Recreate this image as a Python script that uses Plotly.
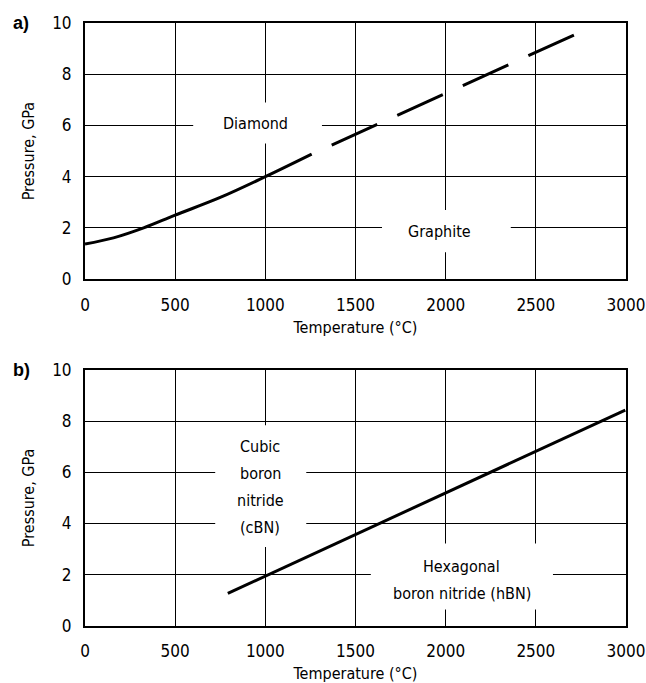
import plotly.graph_objects as go

# ---- data ----
# panel a: diamond / graphite equilibrium line (solid part, then dashed extrapolation)
a_solid_T = [0, 158, 325, 500, 750, 1000, 1257]
a_solid_P = [1.37, 1.61, 2.0, 2.5, 3.19, 4.0, 4.88]
a_dash_T = [1257, 2724]
a_dash_P = [4.88, 9.57]

# panel b: cBN / hBN equilibrium line
b_T = [792, 2996]
b_P = [1.27, 8.43]

x_ticks = [0, 500, 1000, 1500, 2000, 2500, 3000]
y_ticks = [0, 2, 4, 6, 8, 10]

# region labels (one entry per text line)
a_label_lines = [("Diamond", 943, 6.08), ("Graphite", 1967, 1.88)]
b_label_lines = [("Cubic", 971, 7.0), ("boron", 971, 5.95), ("nitride", 971, 4.9),
                 ("(cBN)", 971, 3.85), ("Hexagonal", 2088, 2.32),
                 ("boron nitride (hBN)", 2088, 1.28)]

FONT = "DejaVu Sans Condensed, Liberation Sans, Arial, sans-serif"
FS = 16
TICK_FS = 17

fig = go.Figure()
fig.add_trace(go.Scatter(x=a_solid_T, y=a_solid_P, mode="lines",
                         line=dict(color="black", width=3, shape="spline"),
                         xaxis="x", yaxis="y", showlegend=False, hoverinfo="skip"))
fig.add_trace(go.Scatter(x=a_dash_T, y=a_dash_P, mode="lines",
                         line=dict(color="black", width=3, dash="0px,22px,50px,0px"),
                         xaxis="x", yaxis="y", showlegend=False, hoverinfo="skip"))
fig.add_trace(go.Scatter(x=b_T, y=b_P, mode="lines",
                         line=dict(color="black", width=3), xaxis="x2", yaxis="y2",
                         showlegend=False, hoverinfo="skip"))

axis_common = dict(showline=True, mirror=True, linecolor="black", linewidth=2,
                   showgrid=True, gridcolor="black", gridwidth=1.2, zeroline=False,
                   ticks="", tickfont=dict(family=FONT, size=TICK_FS, color="black"),
                   title_font=dict(family=FONT, size=FS, color="black"),
                   ticklabeloverflow="allow", automargin=False)

fig.update_layout(
    width=646, height=683,
    margin=dict(l=85, r=20, t=23, b=57),
    paper_bgcolor="white", plot_bgcolor="white",
    font=dict(family=FONT, size=FS, color="black"),
    xaxis=dict(axis_common, domain=[0, 1], anchor="y", range=[0, 3000],
               tickvals=x_ticks, title=dict(text="Temperature (°C)", standoff=8),
               ticklabelstandoff=9),
    yaxis=dict(axis_common, domain=[0.5752, 1], anchor="x", range=[0, 10],
               tickvals=y_ticks, title=dict(text="Pressure, GPa", standoff=14),
               ticklabelstandoff=8),
    xaxis2=dict(axis_common, domain=[0, 1], anchor="y2", range=[0, 3000],
                tickvals=x_ticks, title=dict(text="Temperature (°C)", standoff=8),
                ticklabelstandoff=9),
    yaxis2=dict(axis_common, domain=[0, 0.4248], anchor="x2", range=[0, 10],
                tickvals=y_ticks, title=dict(text="Pressure, GPa", standoff=14),
                ticklabelstandoff=8),
)

# white boxes that break the grid behind the region labels
boxes = [
    ("x", "y", 600, 1314, 5.3, 6.9),
    ("x", "y", 1647, 2361, 1.05, 2.7),
    ("x2", "y2", 722, 1227, 3.08, 7.84),
    ("x2", "y2", 1585, 2595, 0.64, 3.22),
]
for xr, yr, x0, x1, y0, y1 in boxes:
    fig.add_shape(type="rect", xref=xr, yref=yr, x0=x0, x1=x1, y0=y0, y1=y1,
                  fillcolor="white", line=dict(width=0), layer="between")

for refs, lines in ((("x", "y"), a_label_lines), (("x2", "y2"), b_label_lines)):
    for t, x, y in lines:
        fig.add_annotation(xref=refs[0], yref=refs[1], x=x, y=y, text=t, showarrow=False,
                           font=dict(family=FONT, size=FS, color="black"))

fig.add_annotation(xref="paper", yref="paper", x=-0.118, y=1.0, xanchor="center",
                   yanchor="middle", text="<b>a)</b>", showarrow=False,
                   font=dict(family="Liberation Sans, Arial, sans-serif", size=18, color="black"))
fig.add_annotation(xref="paper", yref="paper", x=-0.118, y=0.4248, xanchor="center",
                   yanchor="middle", text="<b>b)</b>", showarrow=False,
                   font=dict(family="Liberation Sans, Arial, sans-serif", size=18, color="black"))

fig.write_html("out.html")
